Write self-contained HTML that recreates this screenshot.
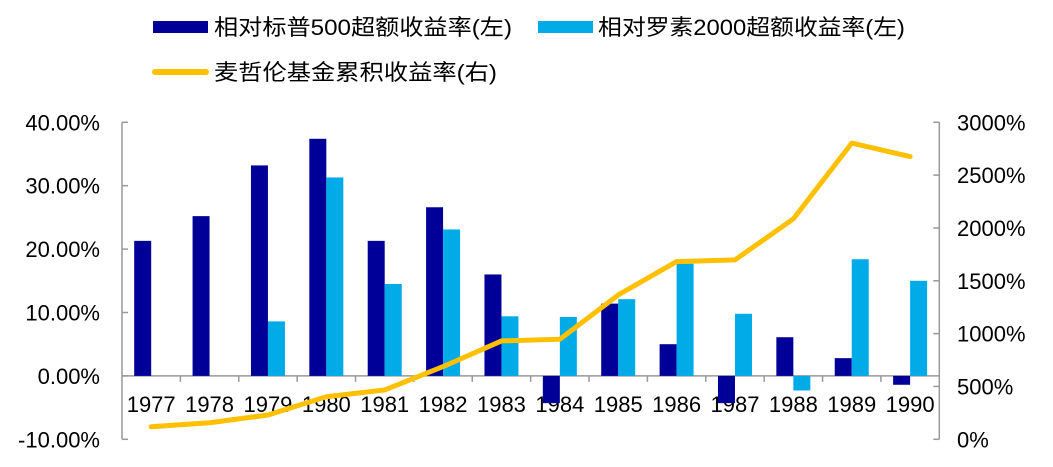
<!DOCTYPE html>
<html><head><meta charset="utf-8"><style>
body{margin:0;background:#fff;}
svg text{font-family:"Liberation Sans","Noto Sans CJK SC",sans-serif;fill:#000;}
</style></head><body>
<svg id="chart" width="1053" height="462" viewBox="0 0 1053 462" xmlns="http://www.w3.org/2000/svg">
<g>
<rect x="153" y="21" width="55" height="12" fill="#000099"/>
<text x="214" y="35" font-size="22" textLength="298" lengthAdjust="spacingAndGlyphs">相对标普500超额收益率(左)</text>
<rect x="538" y="21" width="55" height="12" fill="#00ABE8"/>
<text x="598" y="35" font-size="22" textLength="307" lengthAdjust="spacingAndGlyphs">相对罗素2000超额收益率(左)</text>
<line x1="155" y1="72" x2="206" y2="72" stroke="#FFC000" stroke-width="6" stroke-linecap="round"/>
<text x="214" y="80" font-size="22" textLength="283" lengthAdjust="spacingAndGlyphs">麦哲伦基金累积收益率(右)</text>
</g>
<g id="axes"></g>
<g id="bars"></g>
<g id="line"></g>
</svg>
<script>
const years=['1977','1978','1979','1980','1981','1982','1983','1984','1985','1986','1987','1988','1989','1990'];
const sp500Excess=[21.3,25.2,33.2,37.4,21.3,26.6,16.0,-4.3,11.4,5.0,-4.3,6.1,2.8,-1.4];
const russellExcess=[0,0,8.6,31.3,14.5,23.1,9.4,9.3,12.1,17.7,9.8,-2.3,18.4,15.0];
const magellanCum=[119,157,230,403,467,688,931,947,1366,1682,1698,2086,2803,2676];
const leftTicks=[-10,0,10,20,30,40];
const leftTickLabels=['-10.00%','0.00%','10.00%','20.00%','30.00%','40.00%'];
const rightTicks=[0,500,1000,1500,2000,2500,3000];
const rightTickLabels=['0%','500%','1000%','1500%','2000%','2500%','3000%'];

const NS='http://www.w3.org/2000/svg';
const X0=122,X1=939.3,TOP=122.3,BOT=439.3;
const step=(X1-X0)/years.length;
const yL=v=>BOT-(v+10)/50*(BOT-TOP);
const yR=v=>BOT-v/3000*(BOT-TOP);
const xC=i=>X0+step*(i+0.5);
function mk(tag,attrs,parent){const e=document.createElementNS(NS,tag);for(const k in attrs)e.setAttribute(k,attrs[k]);parent.appendChild(e);return e;}
const axes=document.getElementById('axes'),bars=document.getElementById('bars'),lineG=document.getElementById('line');
const ax='#999';
let e;
e=mk('line',{x1:X0,y1:TOP,x2:X0,y2:BOT,stroke:ax,'stroke-width':1.5},axes);


e=mk('line',{x1:X1,y1:TOP,x2:X1,y2:BOT,stroke:ax,'stroke-width':1.5},axes);


leftTicks.forEach((v,i)=>{
 const y=yL(v);
 e=mk('line',{x1:X0,y1:y,x2:X0+6,y2:y,stroke:ax,'stroke-width':1.5},axes);
 
 
 e=mk('text',{x:100,y:y+8,'font-size':22,'text-anchor':'end'},axes);e.textContent=leftTickLabels[i];
 
 
});
rightTicks.forEach((v,i)=>{
 const y=yR(v);
 e=mk('line',{x1:X1-6,y1:y,x2:X1,y2:y,stroke:ax,'stroke-width':1.5},axes);
 
 
 e=mk('text',{x:957,y:y+8,'font-size':22},axes);e.textContent=rightTickLabels[i];
 
 
});
const y0=yL(0);
e=mk('line',{x1:X0,y1:y0,x2:X1,y2:y0,stroke:ax,'stroke-width':1.5},axes);


for(let i=1;i<years.length;i++){
 e=mk('line',{x1:X0+step*i,y1:y0,x2:X0+step*i,y2:y0+6,stroke:ax,'stroke-width':1.5},axes);
 
 
}
const bw=17;
years.forEach((yr,i)=>{
 const c=xC(i);
 const a=sp500Excess[i],b=russellExcess[i];
 e=mk('rect',{x:c-bw,y:Math.min(yL(a),y0),width:bw,height:Math.abs(yL(a)-y0),fill:'#000099'},bars);
 
 
 e=mk('rect',{x:c,y:Math.min(yL(b),y0),width:bw,height:Math.abs(yL(b)-y0),fill:'#00ABE8'},bars);
 
 
 e=mk('text',{x:c,y:412,'font-size':22,'text-anchor':'middle'},axes);e.textContent=yr;
 
 
});
const pts=magellanCum.map((v,i)=>xC(i)+','+yR(v)).join(' ');
e=mk('polyline',{points:pts,fill:'none',stroke:'#FFC000','stroke-width':5,'stroke-linejoin':'round','stroke-linecap':'round'},lineG);


</script>
</body></html>
